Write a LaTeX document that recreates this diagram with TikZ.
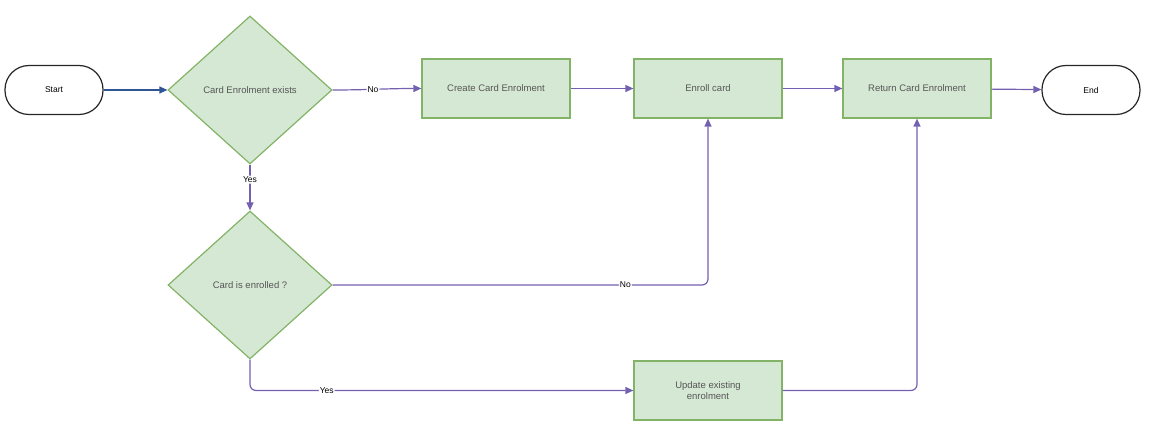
\documentclass[tikz,border=0pt]{standalone}
\usepackage{fontspec}
\setmainfont{Liberation Sans}
\usetikzlibrary{shapes.geometric,arrows.meta}
\definecolor{gf}{HTML}{D5E8D4}
\definecolor{gd}{HTML}{82B366}
\definecolor{pu}{HTML}{7460B0}
\definecolor{bl}{HTML}{2F5597}
\definecolor{tx}{HTML}{555555}
\begin{document}
\begin{tikzpicture}[x=1pt,y=-1pt,
 box/.style={draw=gd,fill=gf,line width=1.2pt,minimum width=148pt,minimum height=59pt,text=tx,font=\fontsize{9.5}{11}\selectfont,align=center,inner sep=1pt},
 dia/.style={draw=gd,fill=gf,line width=1.2pt,diamond,minimum width=164pt,minimum height=148pt,text=tx,font=\fontsize{9.5}{11}\selectfont,inner sep=0pt,aspect=1.1},
 term/.style={draw=black!85,line width=1.2pt,rounded corners=24pt,minimum width=98pt,minimum height=49pt,font=\fontsize{8.5}{10}\selectfont},
 ar/.style={draw=pu,line width=1.2pt,-{Triangle[length=8pt,width=7pt]},rounded corners=6pt},
 lb/.style={fill=white,font=\fontsize{8.5}{10}\selectfont,inner sep=1pt}]
\useasboundingbox (0,0) rectangle (1150,435);
\node[term] (start) at (54,90) {Start};
\node[term] (end) at (1091,90) {End};
\node[dia] (d1) at (250,90) {Card Enrolment exists};
\node[dia] (d2) at (250,285) {Card is enrolled ?};
\node[box] (create) at (496,88.5) {Create Card Enrolment};
\node[box] (enroll) at (708,88.5) {Enroll card};
\node[box] (ret) at (917,88.5) {Return Card Enrolment};
\node[box] (upd) at (708,390.5) {Update existing\\enrolment};
\draw[ar,draw=bl] (start) -- (d1);
\draw[ar] (d1.east) to[out=0,in=180] node[lb,pos=0.45]{No} (create.west);
\draw[ar] (create) -- (enroll);
\draw[ar] (enroll) -- (ret);
\draw[ar] (ret) -- (end);
\draw[ar] (d1.south) -- node[lb,pos=0.33]{Yes} (d2.north);
\draw[ar] (d2.east) -- node[lb,pos=0.78]{No} (708,285) -- (enroll.south);
\draw[ar] (d2.south) |- node[lb,pos=0.6]{Yes} (upd.west);
\draw[ar] (upd.east) -| (ret.south);
\end{tikzpicture}
\end{document}
